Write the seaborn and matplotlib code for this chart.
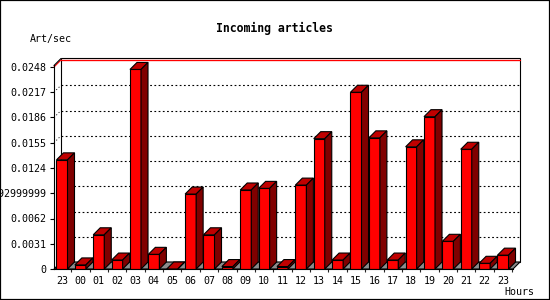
import matplotlib
matplotlib.use("Agg")
import numpy as np
import pandas as pd
import seaborn as sns
import matplotlib.pyplot as plt
from matplotlib.patches import Polygon, Rectangle

# ---- data -------------------------------------------------------------
hour_labels = ["23", "00", "01", "02", "03", "04", "05", "06", "07", "08",
               "09", "10", "11", "12", "13", "14", "15", "16", "17", "18",
               "19", "20", "21", "22", "23"]
art_per_sec = [0.0134, 0.0005, 0.0042, 0.0011, 0.0245, 0.0018, 0.0, 0.0092,
               0.0042, 0.0003, 0.0097, 0.0099, 0.0003, 0.0103, 0.0160, 0.0011,
               0.0217, 0.0161, 0.0011, 0.0150, 0.0187, 0.0034, 0.0147, 0.0007,
               0.0017]
ytick_values = [0, 0.0031, 0.0062, 0.0093, 0.0124, 0.0155, 0.0186, 0.0217, 0.0248]
ytick_labels = ["0", "0.0031", "0.0062", "0.0092999999", "0.0124", "0.0155",
                "0.0186", "0.0217", "0.0248"]
max_value = 0.0248

# ---- style --------------------------------------------------------------
sns.set_style("white")
plt.rcParams["font.family"] = ["DejaVu Sans Mono"]
plt.rcParams["text.color"] = "black"
FRONT, TOP, SIDE, FLOOR = "#ff0000", "#c00000", "#800000", "#8c8c8c"
LW = 0.8
W, H = 550, 300

fig = plt.figure(figsize=(W / 100, H / 100), dpi=100)
fig.patch.set_facecolor("white")
ax = fig.add_axes([54 / W, 31 / H, (513 - 54) / W, 203.5 / H])
ax.set_facecolor("none")

df = pd.DataFrame({"slot": range(len(art_per_sec)), "rate": art_per_sec})
sns.barplot(data=df, x="slot", y="rate", color=FRONT, saturation=1, width=0.6,
            edgecolor="black", linewidth=LW, ax=ax, zorder=3)

xmin, xmax = -0.435, 24.544
ytop = max_value + 1.5 * max_value / 202
ax.set_xlim(xmin, xmax)
ax.set_ylim(0, ytop)

# 3D offset (7 px right, 7 px up) converted to data units
bbox = ax.get_window_extent()
dx = 7 * (xmax - xmin) / bbox.width
dy = 7 * ytop / bbox.height

# floor
ax.add_patch(Polygon([(xmin, 0), (xmax, 0), (xmax + dx, dy), (xmin + dx, dy)],
                     closed=True, facecolor=FLOOR, edgecolor="black", lw=LW,
                     zorder=1, clip_on=False))
# back frame
ax.add_patch(Rectangle((xmin + dx, dy), xmax - xmin, ytop, fill=False,
                       edgecolor="black", lw=LW, zorder=0.5, clip_on=False))
# grid on back wall
for t in ytick_values[1:-1]:
    ax.plot([xmin + dx, xmax + dx], [t + dy, t + dy], color="black", lw=LW,
            linestyle=(0, (1.6, 2.2)), zorder=0.6, clip_on=False)
    ax.plot([xmin, xmin + dx], [t, t + dy], color="black", lw=LW * 0.8,
            linestyle=(0, (1.2, 2.5)), zorder=0.6, clip_on=False)
# max line (red)
ax.plot([xmin + dx, xmax + dx], [max_value + dy, max_value + dy], color="red",
        lw=LW * 1.2, zorder=0.7, clip_on=False)
ax.plot([xmin, xmin + dx], [max_value, max_value + dy], color="red",
        lw=LW, zorder=0.7, clip_on=False)
ax.plot([xmin, xmin + dx], [ytop, ytop + dy], color="black", lw=LW,
        zorder=0.8, clip_on=False)

# 3D faces of bars
for p in ax.patches:
    if not isinstance(p, Rectangle) or p.get_zorder() != 3:
        continue
    x0 = p.get_x()
    x1 = x0 + p.get_width()
    h = p.get_height()
    top = Polygon([(x0, h), (x1, h), (x1 + dx, h + dy), (x0 + dx, h + dy)],
                  closed=True, facecolor=TOP, edgecolor="black", lw=LW,
                  zorder=3.1, clip_on=False)
    side = Polygon([(x1, 0), (x1 + dx, dy), (x1 + dx, h + dy), (x1, h)],
                   closed=True, facecolor=SIDE, edgecolor="black", lw=LW,
                   zorder=3.1, clip_on=False)
    ax.add_patch(top)
    ax.add_patch(side)

# axes / ticks
for s in ["top", "right"]:
    ax.spines[s].set_visible(False)
for s in ["left", "bottom"]:
    ax.spines[s].set_color("black")
    ax.spines[s].set_linewidth(LW)
    ax.spines[s].set_zorder(5)

ax.set_yticks(ytick_values)
ax.set_yticklabels(ytick_labels)
ax.set_xticks(range(len(hour_labels)))
ax.set_xticklabels(hour_labels)
ax.set_xticks([k + 0.5 for k in range(len(hour_labels))], minor=True)
ax.tick_params(axis="y", which="major", direction="out", length=2.9, width=LW,
               pad=2.6, labelsize=7.2, colors="black", left=True)
ax.tick_params(axis="x", which="major", length=0, pad=5, labelsize=7.2,
               colors="black")
ax.tick_params(axis="x", which="minor", direction="out", length=2.4,
               width=LW, bottom=True)
ax.set_xlabel("")
ax.set_ylabel("")

# texts
fig.text(274 / W, 1 - 28 / H, "Incoming articles", ha="center", va="center",
         fontsize=8.3, fontweight="bold", color="black")
fig.text(30 / W, 1 - 39 / H, "Art/sec", ha="left", va="center", fontsize=7.2,
         color="black")
fig.text(534 / W, 1 - 292 / H, "Hours", ha="right", va="center", fontsize=7.2,
         color="black")

# figure border
fig.patches.append(Rectangle((0, 0), 1, 1, transform=fig.transFigure,
                             fill=False, edgecolor="black", lw=1.6))

fig.savefig("out.png", dpi=100)
